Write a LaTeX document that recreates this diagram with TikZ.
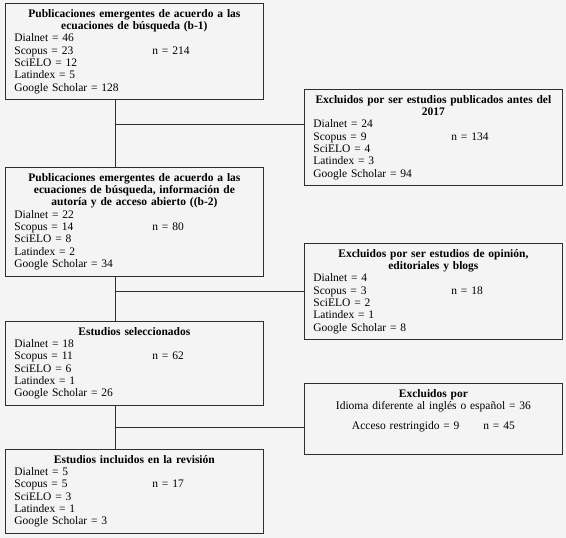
\documentclass[tikz,border=0pt]{standalone}
\usepackage{fontspec}
\setmainfont{Liberation Serif}
\usetikzlibrary{calc}

\definecolor{bg}{HTML}{F4F4F4}
\definecolor{boxline}{HTML}{2E2E2E}

% title of a box, and a list line with its total
\newcommand{\boxtitle}[1]{{\centering\bfseries #1\par}}
\newcommand{\totline}[2]{\makebox[138pt][l]{#1}#2}

\begin{document}
\begin{tikzpicture}[x=1pt, y=-1pt,
    box/.style={draw=boxline, line width=0.8pt, fill=bg, anchor=north west,
        text width=240pt, inner xsep=9pt, inner ysep=6pt, align=left,
        font=\fontsize{11.5}{12.3}\selectfont},
    link/.style={draw=boxline, line width=0.8pt}]

    % Background
    \fill[bg] (0,0) rectangle (566,538);
    \useasboundingbox (0,0) rectangle (566,538);

    % Main column
    \node[box] (b1) at (5,3) {\boxtitle{Publicaciones emergentes de acuerdo a las\\ ecuaciones de búsqueda (b-1)}
        Dialnet = 46\\ \totline{Scopus = 23}{n = 214}\\ SciELO = 12\\ Latindex = 5\\ Google Scholar = 128};
    \node[box] (b2) at (5,167) {\boxtitle{Publicaciones emergentes de acuerdo a las\\ ecuaciones de búsqueda, información de\\ autoría y de acceso abierto ((b-2)}
        Dialnet = 22\\ \totline{Scopus = 14}{n = 80}\\ SciELO = 8\\ Latindex = 2\\ Google Scholar = 34};
    \node[box] (b3) at (5,321) {\boxtitle{Estudios seleccionados}
        Dialnet = 18\\ \totline{Scopus = 11}{n = 62}\\ SciELO = 6\\ Latindex = 1\\ Google Scholar = 26};
    \node[box] (b4) at (5,449) {\boxtitle{Estudios incluidos en la revisión}
        Dialnet = 5\\ \totline{Scopus = 5}{n = 17}\\ SciELO = 3\\ Latindex = 1\\ Google Scholar = 3};

    % Excluded
    \node[box] (e1) at (304,89) {\boxtitle{Excluidos por ser estudios publicados antes del\\ 2017}
        Dialnet = 24\\ \totline{Scopus = 9}{n = 134}\\ SciELO = 4\\ Latindex = 3\\ Google Scholar = 94};
    \node[box] (e2) at (304,243) {\boxtitle{Excluidos por ser estudios de opinión,\\ editoriales y blogs}
        Dialnet = 4\\ \totline{Scopus = 3}{n = 18}\\ SciELO = 2\\ Latindex = 1\\ Google Scholar = 8};
    \node[box, align=center] (e3) at (304,383) {\textbf{Excluidos por}\\ Idioma diferente al inglés o español = 36\\[8pt]
        Acceso restringido = 9\hspace{24pt}n = 45\\[6pt]\mbox{}};

    % Junctions
    \coordinate (j1) at (115,124);
    \coordinate (j2) at (115,291);
    \coordinate (j3) at (115,427);

    % Links
    \draw[link] (b1.south -| j1) -- (b2.north -| j1);
    \draw[link] (b2.south -| j2) -- (b3.north -| j2);
    \draw[link] (b3.south -| j3) -- (b4.north -| j3);
    \draw[link] (j1) -- (j1 -| e1.west);
    \draw[link] (j2) -- (j2 -| e2.west);
    \draw[link] (j3) -- (j3 -| e3.west);

\end{tikzpicture}
\end{document}
